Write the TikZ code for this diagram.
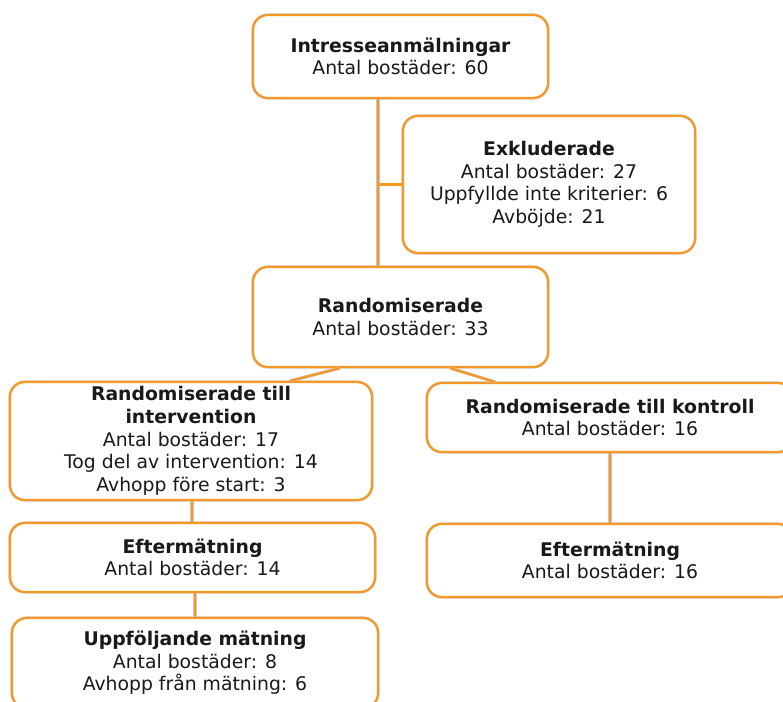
\documentclass[tikz,border=0pt]{standalone}
\usepackage{fontspec}
\setmainfont{DejaVu Sans}
\definecolor{boxorange}{RGB}{247,152,36}
\definecolor{edgegray}{RGB}{205,198,190}
\definecolor{txt}{RGB}{25,25,25}
\begin{document}
\begin{tikzpicture}[x=1pt,y=-1pt,
  flowbox/.style={draw=boxorange, line width=2.2pt, rounded corners=15pt, fill=white,
    align=center, text=txt, inner sep=0pt, font=\fontsize{18.8}{22.6}\selectfont,
    preaction={draw=edgegray, line width=3.2pt}},
  link/.style={draw=boxorange, line width=2.2pt, preaction={draw=edgegray, line width=3.2pt}}]
\useasboundingbox (0,0) rectangle (783,701);
\begin{scope}
\clip (0,0) rectangle (783,701);
\coordinate (br) at (378,185);
\node[flowbox, minimum width=295pt, minimum height=83pt] (top) at (400.5,56.5)
  {\textbf{Intresseanmälningar}\\Antal bostäder: 60};
\node[flowbox, minimum width=292pt, minimum height=137pt] (exkl) at (549,184.5)
  {\textbf{Exkluderade}\\Antal bostäder: 27\\Uppfyllde inte kriterier: 6\\Avböjde: 21};
\node[flowbox, minimum width=295pt, minimum height=100pt] (rand) at (400.5,317)
  {\textbf{Randomiserade}\\Antal bostäder: 33};
\node[flowbox, minimum width=362pt, minimum height=118pt] (interv) at (191,441)
  {\textbf{Randomiserade till}\\\textbf{intervention}\\Antal bostäder: 17\\Tog del av intervention: 14\\Avhopp före start: 3};
\node[flowbox, minimum width=366pt, minimum height=69pt] (kontr) at (610,417.5)
  {\textbf{Randomiserade till kontroll}\\Antal bostäder: 16};
\node[flowbox, minimum width=365pt, minimum height=69pt] (eftl) at (192.5,557.5)
  {\textbf{Eftermätning}\\Antal bostäder: 14};
\node[flowbox, minimum width=366pt, minimum height=73pt] (eftr) at (610,560.5)
  {\textbf{Eftermätning}\\Antal bostäder: 16};
\node[flowbox, minimum width=366pt, minimum height=90pt] (uppf) at (195,663)
  {\textbf{Uppföljande mätning}\\Antal bostäder: 8\\Avhopp från mätning: 6};
\path[link] ([xshift=-22.5pt]top.south) -- ([xshift=-22.5pt]rand.north);
\path[link] (br |- exkl.west) -- (exkl.west);
\path[link] ([xshift=-60.5pt]rand.south) -- ([xshift=99pt]interv.north);
\path[link] ([xshift=49.5pt]rand.south) -- ([xshift=-115pt]kontr.north);
\path[link] ([xshift=1pt]interv.south) -- ([xshift=-0.5pt]eftl.north);
\path[link] ([xshift=2.5pt]eftl.south) -- (uppf.north);
\path[link] (kontr.south) -- (eftr.north);
\end{scope}
\end{tikzpicture}
\end{document}
